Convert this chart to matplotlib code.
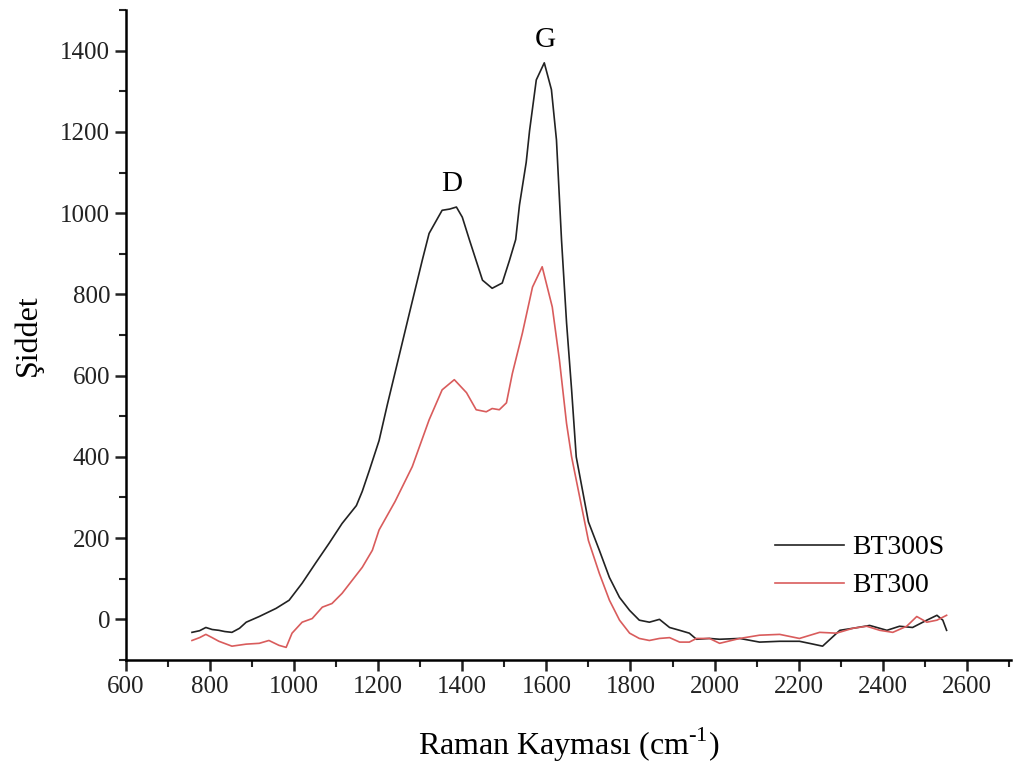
import matplotlib.pyplot as plt
from matplotlib.ticker import MultipleLocator

plt.rcParams['font.family'] = ['Liberation Serif', 'DejaVu Serif']
plt.rcParams['mathtext.fontset'] = 'custom'
plt.rcParams['mathtext.rm'] = 'Liberation Serif'

# BT300S (black)
x_bt300s = [757, 775, 790, 805, 821, 835, 852, 870, 886, 917, 957, 988, 1019, 1052,
            1083, 1114, 1148, 1162, 1179, 1202, 1222, 1243, 1274, 1305, 1321, 1340, 1352,
            1370, 1386, 1400, 1417, 1448, 1471, 1495, 1512, 1527, 1536, 1552, 1560,
            1576, 1595, 1612, 1624, 1636, 1648, 1660, 1671, 1700, 1726, 1750, 1774,
            1798, 1821, 1845, 1869, 1893, 1917, 1940, 1957, 1988, 2012, 2060, 2107,
            2155, 2202, 2230, 2257, 2298, 2329, 2369, 2410, 2440, 2471, 2505, 2529,
            2543, 2552]
y_bt300s = [-32, -28, -20, -25, -27, -30, -32, -22, -7, 7, 27, 47, 89, 140,
            187, 236, 280, 315, 367, 440, 530, 620, 753, 885, 950, 985, 1007,
            1010, 1015, 990, 934, 835, 815, 828, 883, 935, 1020, 1125, 1203,
            1328, 1370, 1304, 1180, 934, 730, 565, 400, 240, 170, 103, 54,
            22, -2, -7, 0, -20, -27, -34, -49, -47, -49, -47, -56,
            -54, -54, -60, -66, -27, -22, -15, -27, -17, -20, -2, 10,
            -2, -27]

# BT300 (red)
x_bt300 = [757, 775, 790, 805, 821, 852, 886, 917, 940, 964, 981, 995, 1019, 1043,
           1067, 1090, 1114, 1138, 1162, 1186, 1202, 1240, 1281, 1321, 1352, 1381,
           1410, 1433, 1457, 1471, 1488, 1505, 1519, 1543, 1567, 1590, 1614, 1631,
           1648, 1660, 1700, 1726, 1750, 1774, 1798, 1821, 1845, 1869, 1893, 1917,
           1940, 1957, 1988, 2012, 2060, 2107, 2155, 2202, 2250, 2290, 2329, 2362,
           2393, 2424, 2457, 2481, 2505, 2529, 2552]
y_bt300 = [-52, -45, -37, -45, -54, -66, -61, -59, -52, -64, -69, -34, -7, 2,
           30, 39, 64, 96, 128, 170, 220, 290, 376, 491, 565, 590,
           558, 516, 511, 519, 516, 533, 605, 705, 818, 868, 769, 639,
           482, 400, 194, 113, 47, -2, -34, -47, -52, -47, -45, -56,
           -56, -47, -47, -59, -47, -39, -37, -47, -32, -34, -22, -17,
           -27, -32, -17, 7, -7, -2, 10]

fig = plt.figure(figsize=(10.16, 7.71), dpi=100)
ax = fig.add_axes([0.124, 0.144, 0.871, 0.843])

ax.plot(x_bt300s, y_bt300s, color='#222222', lw=1.2, label='BT300S')
ax.plot(x_bt300, y_bt300, color='#d95c5c', lw=1.2, label='BT300')

ax.set_xlim(600, 2705)
ax.set_ylim(-100, 1500)
ax.xaxis.set_major_locator(MultipleLocator(200))
ax.xaxis.set_minor_locator(MultipleLocator(100))
ax.yaxis.set_major_locator(MultipleLocator(200))
ax.yaxis.set_minor_locator(MultipleLocator(100))
ax.set_yticks(range(0, 1401, 200))

for s in ['top', 'right']:
    ax.spines[s].set_visible(False)
for s in ['left', 'bottom']:
    ax.spines[s].set_linewidth(1.8)
ax.tick_params(which='major', direction='out', length=8, width=1.8, labelsize=18, colors='#222222')
ax.tick_params(which='minor', direction='out', length=5, width=1.5, colors='#222222')

ax.text(1375, 1040, 'D', fontsize=21, ha='center', va='bottom')
ax.text(1598, 1395, 'G', fontsize=21, ha='center', va='bottom')

ax.set_xlabel('Raman Kayması (cm$^{\\text{-}1}$)', fontsize=23, labelpad=20)
ax.set_ylabel('Şiddet', fontsize=23, labelpad=12)

ax.legend(loc='lower left', bbox_to_anchor=(0.733, 0.095), frameon=False, fontsize=20,
          handlelength=2.5, handletextpad=0.3, labelspacing=0.45,
          borderpad=0, borderaxespad=0)

fig.savefig('out.png', dpi=100)
